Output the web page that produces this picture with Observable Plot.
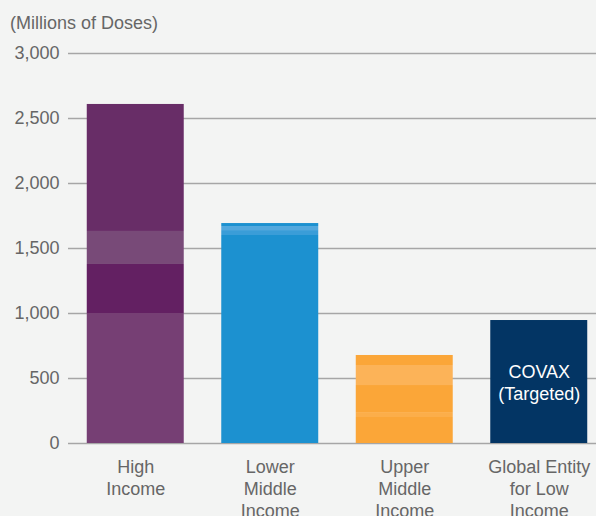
<!DOCTYPE html>
<html>
<head>
<meta charset="utf-8">
<script src="https://cdn.jsdelivr.net/npm/d3@7"></script>
<script src="https://cdn.jsdelivr.net/npm/@observablehq/plot@0.6"></script>
<style>
  html, body { margin: 0; padding: 0; background: #f3f4f3; }
  #wrap { position: relative; width: 596px; height: 516px; overflow: hidden; font-family: "Liberation Sans", Arial, sans-serif; }
  #title { position: absolute; left: 10px; top: 14px; font-size: 18px; line-height: 18px; color: #666; }
  svg { display: block; }
</style>
</head>
<body>
<div id="wrap">
  <div id="title">(Millions of Doses)</div>
  <div id="chart"></div>
</div>
<script>
// ---- data ----
const categories = ["High Income", "Lower Middle Income", "Upper Middle Income", "Global Entity for Low Income"];
const xLabels = ["High\nIncome", "Lower\nMiddle\nIncome", "Upper\nMiddle\nIncome", "Global Entity\nfor Low\nIncome"];
// stacked segments from the bottom (millions of doses)
const highIncomeSegments = [1000, 377, 254, 977];
const lowerMiddleSegments = [1600, 38, 31, 23];
const upperMiddleSegments = [200, 38, 208, 154, 77];
const covaxSegments = [946];
const yTicks = [0, 500, 1000, 1500, 2000, 2500, 3000];
const barNote = "COVAX\n(Targeted)";

// ---- styles ----
const highColors = ["#763f74", "#632062", "#784a78", "#682d67"];
const lowerColors = ["#1c91d0", "#3a9dd8", "#52a8de", "#1c91d0"];
const upperColors = ["#fba638", "#fcae4a", "#fba638", "#fcb358", "#fba638"];
const covaxColors = ["#033564"];

const allSegments = [highIncomeSegments, lowerMiddleSegments, upperMiddleSegments, covaxSegments];
const allColors = [highColors, lowerColors, upperColors, covaxColors];
const rows = [];
allSegments.forEach((segs, i) => {
  segs.forEach((v, j) => rows.push({category: categories[i], value: v, color: allColors[i][j]}));
});
const noteRow = [{category: categories[3], value: d3.sum(covaxSegments) / 2, text: barNote}];

const chart = Plot.plot({
  width: 596,
  height: 516,
  marginTop: 53,
  marginBottom: 73,
  marginLeft: 68,
  marginRight: 0,
  style: {background: "transparent", fontFamily: "Liberation Sans, Arial, sans-serif", fontSize: "18px", color: "#666"},
  x: {domain: categories, range: [68, 606], paddingInner: 0.279, paddingOuter: 0.1395, round: false, label: null},
  y: {domain: [0, 3000], label: null},
  color: {type: "identity"},
  marks: [
    Plot.ruleY(yTicks, {stroke: "#a6a6a6", strokeWidth: 1.5}),
    Plot.barY(rows, {x: "category", y: "value", fill: "color"}),
    Plot.text(noteRow, {x: "category", y: "value", text: "text", fill: "white", fontSize: 18, lineHeight: 1.22, lineAnchor: "middle"}),
    Plot.axisY({ticks: yTicks, tickSize: 0, tickPadding: 9, tickFormat: d3.format(","), fontSize: 18, fill: "#666", label: null}),
    Plot.axisX({tickSize: 0, tickPadding: 14, fontSize: 18, lineHeight: 1.22, fill: "#666", label: null,
      tickFormat: d => xLabels[categories.indexOf(d)]})
  ]
});
document.getElementById("chart").appendChild(chart);
</script>
</body>
</html>
